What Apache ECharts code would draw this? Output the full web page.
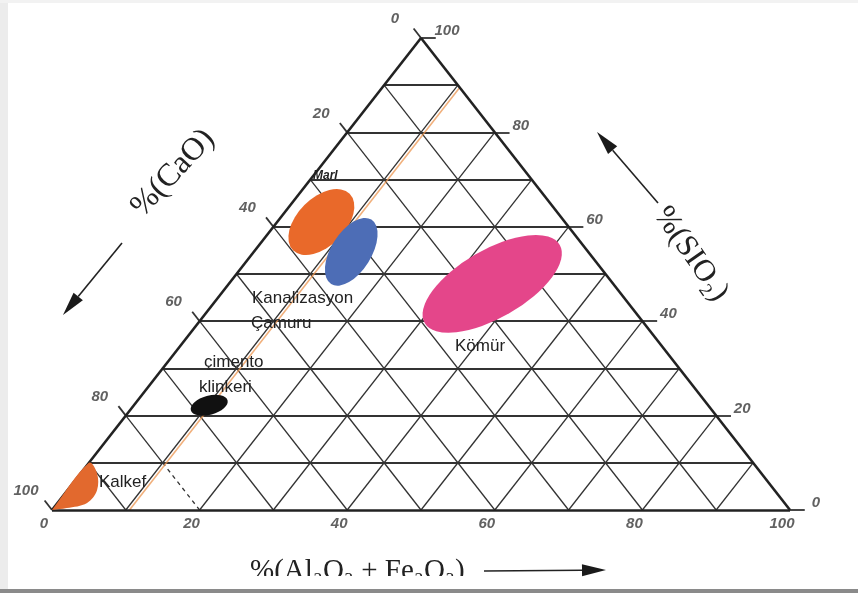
<!DOCTYPE html>
<html>
<head>
<meta charset="utf-8">
<style>
  html, body { margin: 0; padding: 0; background: #fff; }
  #chart { width: 858px; height: 593px; }
</style>
<script src="https://cdn.jsdelivr.net/npm/echarts@6/dist/echarts.min.js"></script>
</head>
<body>
<div id="chart"></div>
<script>
// ternary: A = Al2O3+Fe2O3 (bottom, 100 at right), S = SiO2 (100 at top), CaO = 100 - A - S
var gridSteps = [10, 20, 30, 40, 50, 60, 70, 80, 90];
var tickValues = [0, 20, 40, 60, 80, 100];

var regionNames = ['Marl', 'Kanalizasyon Çamuru', 'Kömür', 'çimento klinkeri'];
var regionAl = [6.0, 13.2, 35.7, 10.2];
var regionSi = [61.0, 54.7, 47.9, 22.2];

// Kalkef outline along the CaO corner
var kalkefAl = [0, 0, 2.2, 4.0, 4.0, 1.8, 0];
var kalkefSi = [0, 10, 7.8, 4.2, 1.5, 0.4, 0];

var orangeLineAl = 10.5;

var blobLook = [
  { size: [80, 48], rotate: 45, color: '#e9692a' },
  { size: [76, 40], rotate: 58, color: '#4d6db6' },
  { size: [156, 68], rotate: 30, color: '#e4468a' },
  { size: [38, 19], rotate: 15, color: '#111111' }
];

function tern(a, s) {
  return [a + s / 2, s];
}

var edges = [
  { coords: [tern(0, 0), tern(100, 0)] },
  { coords: [tern(100, 0), tern(0, 100)] },
  { coords: [tern(0, 100), tern(0, 0)] }
];

var horiz = [];
var diag = [];
gridSteps.forEach(function (v) {
  horiz.push({ coords: [tern(0, v), tern(100 - v, v)] });
  // CaO = v
  if (v === 80) {
    diag.push({ coords: [tern(0, 20), tern(10, 10)] });
    diag.push({ coords: [tern(10, 10), tern(20, 0)], lineStyle: { type: [4, 4] } });
  } else {
    diag.push({ coords: [tern(0, 100 - v), tern(100 - v, 0)] });
  }
  // Al2O3 = v
  diag.push({ coords: [tern(v, 0), tern(v, 100 - v)] });
});

var ticks = [];
tickValues.forEach(function (v) {
  ticks.push({ coords: [tern(100 - v, v), tern(102 - v, v)] });
  ticks.push({ coords: [tern(0, v), tern(-2, v + 2)] });
});

var tickLabelStyle = {
  show: true,
  position: 'inside',
  formatter: '{b}',
  fontFamily: 'Liberation Sans',
  fontStyle: 'italic',
  fontWeight: 'bold',
  fontSize: 15,
  color: '#3a3a3a'
};

function tickSeries(points, offset) {
  return {
    type: 'scatter',
    symbolSize: 1,
    itemStyle: { color: 'rgba(0,0,0,0)' },
    silent: true,
    clip: false,
    z: 6,
    label: Object.assign({ offset: offset }, tickLabelStyle),
    data: points
  };
}

var siLabels = tickValues.map(function (v) { return { name: String(v), value: tern(100 - v, v) }; });
var caLabels = tickValues.map(function (v) { return { name: String(100 - v), value: tern(0, v) }; });
var alLabels = tickValues.map(function (v) { return { name: String(v), value: tern(v, 0) }; });

var series = [
  {
    type: 'lines', coordinateSystem: 'cartesian2d', silent: true, clip: false, z: 2,
    lineStyle: { color: '#333', width: 1.3, opacity: 1 },
    data: diag
  },
  {
    type: 'lines', coordinateSystem: 'cartesian2d', silent: true, clip: false, z: 2,
    lineStyle: { color: '#333', width: 1.8, opacity: 1 },
    data: horiz.concat(ticks)
  },
  {
    type: 'lines', coordinateSystem: 'cartesian2d', silent: true, clip: false, z: 2,
    lineStyle: { color: 'rgba(236,150,80,0.75)', width: 1.6, opacity: 1 },
    data: [{ coords: [tern(orangeLineAl, 0), tern(orangeLineAl, 100 - orangeLineAl)] }]
  },
  {
    type: 'lines', coordinateSystem: 'cartesian2d', silent: true, clip: false, z: 2,
    lineStyle: { color: '#222', width: 2.6, opacity: 1 },
    data: edges
  },
  {
    type: 'custom',
    silent: true,
    z: 4,
    renderItem: function (params, api) {
      var pts = kalkefAl.map(function (a, i) { return api.coord(tern(a, kalkefSi[i])); });
      return {
        type: 'polygon',
        shape: { points: pts, smooth: 0.35 },
        style: { fill: '#e2692e' }
      };
    },
    data: [[0, 0]]
  },
  tickSeries(siLabels, [26, -7]),
  tickSeries(caLabels, [-26, -19]),
  tickSeries(alLabels, [-8, 14])
];

regionNames.forEach(function (name, i) {
  series.push({
    type: 'scatter',
    name: name,
    symbol: 'circle',
    symbolSize: blobLook[i].size,
    symbolRotate: blobLook[i].rotate,
    itemStyle: { color: blobLook[i].color, opacity: 1 },
    silent: true,
    z: 4,
    data: [tern(regionAl[i], regionSi[i])]
  });
});

function txt(text, x, y, font, extra) {
  var el = {
    type: 'text', x: x, y: y, z: 100,
    style: {
      text: text, font: font, fill: '#222',
      align: 'left', verticalAlign: 'middle',
      textAlign: 'left', textVerticalAlign: 'middle'
    }
  };
  if (extra) Object.assign(el, extra);
  return el;
}

function arrow(x1, y1, x2, y2) {
  var dx = x2 - x1, dy = y2 - y1;
  var len = Math.sqrt(dx * dx + dy * dy);
  var ux = dx / len, uy = dy / len;
  var hl = 24, hw = 6;
  var bx = x2 - ux * hl, by = y2 - uy * hl;
  return [
    { type: 'line', z: 100, shape: { x1: x1, y1: y1, x2: bx, y2: by }, style: { stroke: '#222', lineWidth: 1.6 } },
    { type: 'polygon', z: 100, shape: { points: [[x2, y2], [bx - uy * hw, by + ux * hw], [bx + uy * hw, by - ux * hw]] }, style: { fill: '#1a1a1a' } }
  ];
}

var sans = '17px "Liberation Sans"';
var serif = '"Liberation Serif"';

var graphics = [
  { type: 'rect', z: 90, shape: { x: 0, y: 0, width: 8, height: 593 }, style: { fill: '#ececec' } },
  { type: 'rect', z: 90, shape: { x: 0, y: 0, width: 858, height: 3 }, style: { fill: '#f2f2f2' } },
  txt('Marl', 313, 176, 'italic bold 12px "Liberation Sans"'),
  txt('Kanalizasyon', 252, 298, sans),
  txt('Çamuru', 251, 323, sans),
  txt('Kömür', 455, 346, sans),
  txt('çimento', 204, 362, sans),
  txt('klinkeri', 199, 387, sans),
  txt('Kalkef', 99, 482, sans),
  txt('%(CaO)', 173, 173, '32px ' + serif, { rotation: 0.82, style: { text: '%(CaO)', font: '32px ' + serif, fill: '#222', align: 'center', verticalAlign: 'middle', textAlign: 'center', textVerticalAlign: 'middle' } }),
  txt('%(SIO₂)', 691, 254, '31px ' + serif, { rotation: -0.96, style: { text: '%(SIO₂)', font: '31px ' + serif, fill: '#222', align: 'center', verticalAlign: 'middle', textAlign: 'center', textVerticalAlign: 'middle' } }),
  txt('%(Al₂O₃ + Fe₂O₃)', 250, 571, '29px ' + serif),
  { type: 'rect', z: 101, shape: { x: 230, y: 576, width: 260, height: 14 }, style: { fill: '#fff' } },
  { type: 'rect', z: 102, shape: { x: 0, y: 589, width: 858, height: 4 }, style: { fill: '#8a8a8a' } }
]
  .concat(arrow(484, 571, 63 + 543, 570))
  .concat(arrow(122, 243, 63, 315))
  .concat(arrow(658, 203, 597, 132));

var chart = echarts.init(document.getElementById('chart'));
chart.setOption({
  animation: false,
  backgroundColor: '#fff',
  grid: { left: 52, top: 38, width: 738, height: 472 },
  xAxis: { type: 'value', min: 0, max: 100, show: false },
  yAxis: { type: 'value', min: 0, max: 100, show: false },
  series: series,
  graphic: { elements: graphics }
});
</script>
</body>
</html>
